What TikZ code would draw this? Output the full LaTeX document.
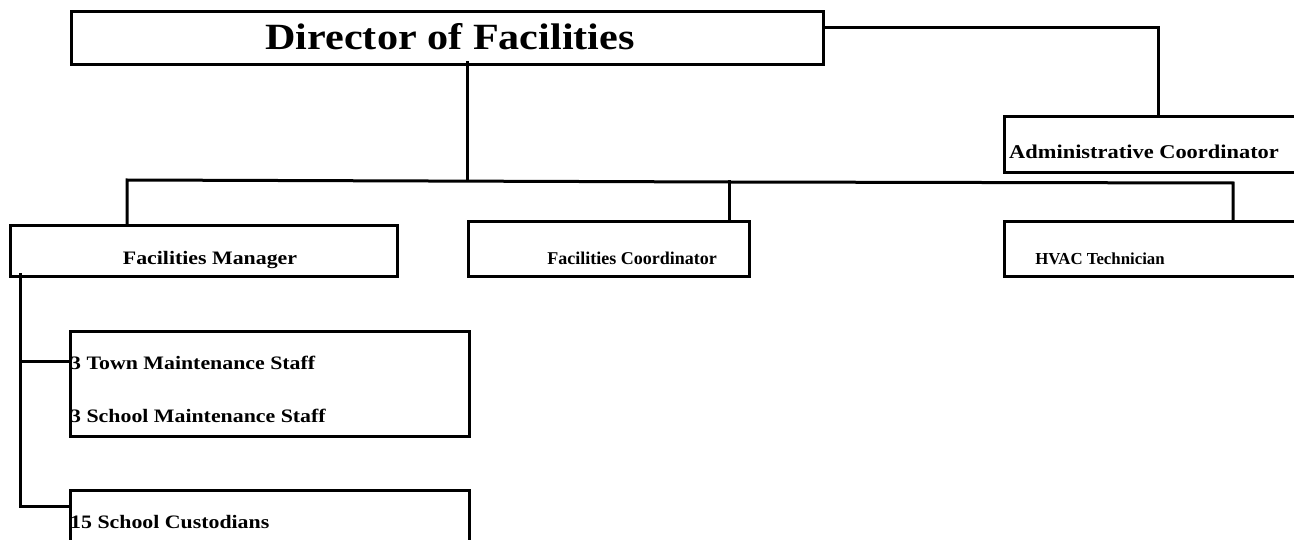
\documentclass[tikz,border=0pt]{standalone}
\usepackage{fontspec}
\setmainfont{Liberation Serif}
\newfontfamily\widefont[FakeStretch=1.14]{Liberation Serif}
\newfontfamily\gfont[FakeStretch=1.15]{Liberation Serif}
\usetikzlibrary{calc}
\begin{document}
\begin{tikzpicture}[x=1pt,y=-1pt,
  box/.style={draw=black, line width=2.8pt, inner sep=0pt, anchor=north west},
  wire/.style={draw=black, line width=3pt, line cap=rect},
  title/.style={font=\widefont\bfseries\fontsize{37}{42}\selectfont, inner sep=0pt, anchor=base},
  glbl/.style={font=\gfont\bfseries\fontsize{19}{22}\selectfont, inner sep=0pt, anchor=base west},
  tlbl/.style={font=\bfseries\fontsize{18}{21}\selectfont, inner sep=0pt, anchor=base}]
\clip (0,0) rectangle (1294,540);
\fill[white] (0,0) rectangle (1294,540);

% boxes
\node[box, minimum width=752pt, minimum height=53pt] (dir)   at (70,10)   {};
\node[box, minimum width=310pt, minimum height=56pt] (admin) at (1003,115) {};
\node[box, minimum width=387pt, minimum height=51pt] (fm)    at (9,224)   {};
\node[box, minimum width=281pt, minimum height=55pt] (fc)    at (467,220) {};
\node[box, minimum width=310pt, minimum height=55pt] (hvac)  at (1003,220) {};
\node[box, minimum width=399pt, minimum height=105pt] (staff) at (69,330)  {};
\node[box, minimum width=399pt, minimum height=70pt] (cust)  at (69,489)  {};

% texts
\node[title] (tdir) at (450,50) {Director of Facilities};
\node[glbl, font=\gfont\bfseries\fontsize{19.5}{22}\selectfont] (tadmin) at (1009,159) {Administrative Coordinator};
\node[glbl, anchor=base] (tfm) at (210,265) {Facilities Manager};
\node[tlbl] (tfc) at (632,265) {Facilities Coordinator};
\node[tlbl, font=\bfseries\fontsize{16.8}{20}\selectfont] (thvac) at (1100,265) {HVAC Technician};
\node[glbl] (ttown) at (70,369) {3 Town Maintenance Staff};
\node[glbl] (tschool) at (70,422) {3 School Maintenance Staff};
\node[glbl] (tcust) at (70,528) {15 School Custodians};

% junction points
\coordinate (dirR)  at (822,28);
\coordinate (admT)  at (1158,28);
\coordinate (dirB)  at (467,63);
\coordinate (busM)  at (467,180);
\coordinate (busL)  at (127,180);
\coordinate (busC)  at (729,182);
\coordinate (busR)  at (1233,183);
\coordinate (fmB)   at (20,275);
\coordinate (trunk1) at (20,361);
\coordinate (trunk2) at (20,506);

% connectors
\draw[wire] (dir.east |- dirR) -- (admT) -- (admT |- admin.north);
\draw[wire] (dirB) -- (busM);
\draw[wire] (busL |- fm.north) -- (busL) -- (busC) -- (busR) -- (busR |- hvac.north);
\draw[wire] (busC) -- (busC |- fc.north);
\draw[wire] (fmB) -- (trunk2) -- (trunk2 -| cust.west);
\draw[wire] (trunk1) -- (trunk1 -| staff.west);
\end{tikzpicture}
\end{document}
